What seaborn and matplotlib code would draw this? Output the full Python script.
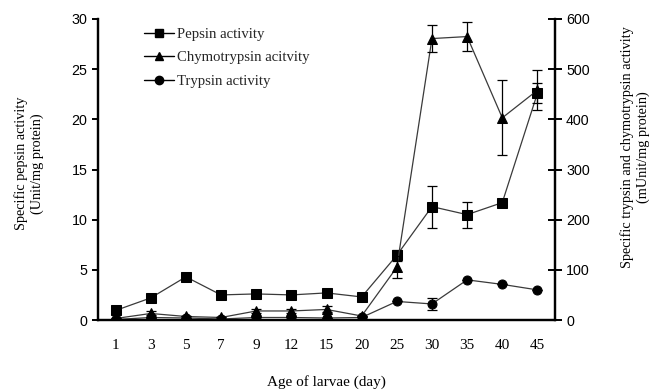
import numpy as np
import pandas as pd
import matplotlib
matplotlib.use("Agg")
import matplotlib.pyplot as plt
import seaborn as sns
from matplotlib.lines import Line2D

days = ["1", "3", "5", "7", "9", "12", "15", "20", "25", "30", "35", "40", "45"]
pepsin = [0.95, 2.2, 4.3, 2.5, 2.6, 2.5, 2.7, 2.3, 6.45, 11.3, 10.5, 11.7, 22.6]
pepsin_err = [0, 0, 0, 0, 0, 0, 0, 0, 0.55, 2.1, 1.3, 0.2, 1.0]
chymo = [3, 13, 7, 5, 18, 18, 21, 8, 105, 561, 565, 403, 458]
chymo_err = [0, 4, 0, 0, 4, 4, 6, 0, 22, 27, 29, 75, 40]
trypsin = [1, 5, 4, 2, 5, 5, 4, 5, 37, 32, 80, 71, 60]
trypsin_err = [0, 0, 0, 0, 0, 0, 0, 0, 0, 12, 0, 0, 0]

sns.set_theme(style="white")
plt.rcParams["font.family"] = ["Liberation Serif", "DejaVu Serif"]

fig = plt.figure(figsize=(6.56, 3.9), dpi=100)
ax = fig.add_axes([98/656, 1-320/390, (555-98)/656, (320-19)/390])
ax2 = ax.twinx()

pos = np.arange(len(days))
lc = "#3a3a3a"
df = pd.DataFrame({"pos": pos, "pepsin": pepsin, "chymo": chymo, "trypsin": trypsin})

sns.lineplot(data=df, x="pos", y="pepsin", ax=ax, color=lc, lw=0.9, marker="s",
             markersize=7, markerfacecolor="black", markeredgecolor="black", legend=False)
ax.errorbar(pos, pepsin, yerr=pepsin_err, fmt="none", ecolor="black", elinewidth=0.9, capsize=3.5, capthick=0.9)

sns.lineplot(data=df, x="pos", y="chymo", ax=ax2, color=lc, lw=0.9, marker="^",
             markersize=7, markerfacecolor="black", markeredgecolor="black", legend=False)
ax2.errorbar(pos, chymo, yerr=chymo_err, fmt="none", ecolor="black", elinewidth=0.9, capsize=3.5, capthick=0.9)
sns.lineplot(data=df, x="pos", y="trypsin", ax=ax2, color=lc, lw=0.9, marker="o",
             markersize=6.5, markerfacecolor="black", markeredgecolor="black", legend=False)
ax2.errorbar(pos, trypsin, yerr=trypsin_err, fmt="none", ecolor="black", elinewidth=0.9, capsize=3.5, capthick=0.9)

for a in (ax, ax2):
    a.set_xlim(-0.5, len(days) - 0.5)
    a.spines["top"].set_visible(False)
    for s in ("left", "right", "bottom"):
        a.spines[s].set_color("black")
        a.spines[s].set_linewidth(1.6)
    a.set_facecolor("none")
    a.grid(False)

ax.set_ylim(0, 30)
ax.set_yticks([0, 5, 10, 15, 20, 25, 30])
ax2.set_ylim(0, 600)
ax2.set_yticks([0, 100, 200, 300, 400, 500, 600])

ax.set_xticks(pos)
ax.set_xticklabels(days)
ax.set_xticks(np.arange(-0.5, len(days), 1.0), minor=True)
ax.tick_params(axis="x", which="major", length=0, pad=14, labelsize=11, colors="black")
ax.tick_params(axis="x", which="minor", length=5, width=1.2, direction="inout", color="black")
ax.tick_params(axis="y", which="major", length=4.5, width=1.4, direction="out", labelsize=10.3,
               colors="black", left=True, pad=3)
ax2.tick_params(axis="y", which="major", length=10, width=1.4, direction="inout", labelsize=10.3,
                colors="black", right=True, pad=3)
for lab in ax.get_yticklabels() + ax2.get_yticklabels():
    lab.set_fontfamily(["Liberation Sans", "DejaVu Sans"])

ax.set_xlabel("Age of larvae (day)", fontsize=11, labelpad=16, color="black")
ax.set_ylabel("Specific pepsin activity\n(Unit/mg protein)", fontsize=10.3, labelpad=20, color="black")
ax.yaxis.label.set_y(0.52)
ax2.set_ylabel("Specific trypsin and chymotrypsin activity\n(mUnit/mg protein)", fontsize=10.3,
               labelpad=22, color="black")
ax2.yaxis.label.set_y(0.575)

handles = [
    Line2D([], [], color="black", lw=1, marker="s", markersize=6),
    Line2D([], [], color="black", lw=1, marker="^", markersize=6),
    Line2D([], [], color="black", lw=1, marker="o", markersize=6),
]
ax.legend(handles, ["Pepsin activity", "Chymotrypsin acitvity", "Trypsin activity"],
          loc="upper left", bbox_to_anchor=(0.072, 1.015), frameon=False, fontsize=10.6,
          handlelength=2.0, handletextpad=0.2, labelspacing=0.68)

fig.savefig("out.png", dpi=100)
